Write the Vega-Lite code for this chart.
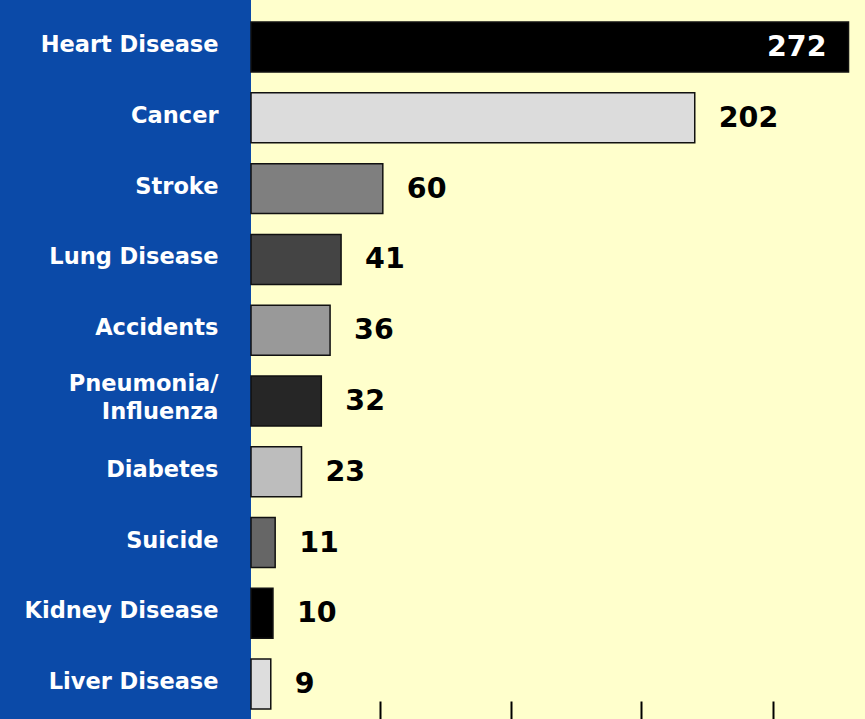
{
  "$schema": "https://vega.github.io/schema/vega-lite/v6.json",
  "width": 614,
  "height": 719,
  "autosize": {"type": "none"},
  "padding": {"left": 251, "top": 0, "right": 0, "bottom": 0},
  "background": "#0b4aa8",
  "config": {"view": {"fill": "#ffffcc", "stroke": null}},
  "data": {
    "values": [
      {"cause": "Heart Disease", "deaths": 272},
      {"cause": "Cancer", "deaths": 202},
      {"cause": "Stroke", "deaths": 60},
      {"cause": "Lung Disease", "deaths": 41},
      {"cause": "Accidents", "deaths": 36},
      {"cause": "Pneumonia/Influenza", "deaths": 32},
      {"cause": "Diabetes", "deaths": 23},
      {"cause": "Suicide", "deaths": 11},
      {"cause": "Kidney Disease", "deaths": 10},
      {"cause": "Liver Disease", "deaths": 9}
    ]
  },
  "encoding": {
    "y": {
      "field": "cause",
      "type": "nominal",
      "sort": null,
      "scale": {"paddingInner": 0.294, "paddingOuter": 0.226, "align": 0.69},
      "axis": {
        "title": null,
        "domain": false,
        "ticks": false,
        "labelPadding": 33,
        "labelColor": "white",
        "labelFont": "DejaVu Sans",
        "labelFontWeight": "bold",
        "labelFontSize": 22.5,
        "labelLimit": 0,
        "labelLineHeight": 28,
        "labelOffset": {"condition": {"test": "datum.value == 'Pneumonia/Influenza'", "value": -17}, "value": -2},
        "labelExpr": "datum.label == 'Pneumonia/Influenza' ? ['Pneumonia/', 'Influenza'] : datum.label"
      }
    },
    "x": {
      "field": "deaths",
      "type": "quantitative",
      "scale": {"domain": [0, 279.5], "nice": false, "zero": true},
      "axis": {
        "title": null,
        "orient": "bottom",
        "offset": -18,
        "tickSize": 18,
        "tickWidth": 2,
        "tickColor": "black",
        "values": [58.6, 118.2, 177.7, 237.7],
        "labels": false,
        "domain": false,
        "grid": false
      }
    }
  },
  "layer": [
    {
      "mark": {"type": "bar", "stroke": "#111111", "strokeWidth": 1.5},
      "encoding": {
        "color": {
          "field": "cause",
          "type": "nominal",
          "legend": null,
          "scale": {
            "domain": ["Heart Disease", "Cancer", "Stroke", "Lung Disease", "Accidents", "Pneumonia/Influenza", "Diabetes", "Suicide", "Kidney Disease", "Liver Disease"],
            "range": ["#000000", "#dcdcdc", "#7f7f7f", "#444444", "#999999", "#262626", "#bdbdbd", "#666666", "#000000", "#dddddd"]
          }
        }
      }
    },
    {
      "transform": [{"filter": "datum.deaths < 250"}],
      "mark": {"type": "text", "align": "left", "baseline": "middle", "dx": 24, "font": "DejaVu Sans", "fontWeight": "bold", "fontSize": 28.5, "color": "black"},
      "encoding": {"text": {"field": "deaths", "type": "quantitative"}}
    },
    {
      "transform": [{"filter": "datum.deaths >= 250"}],
      "mark": {"type": "text", "align": "right", "baseline": "middle", "dx": -22, "font": "DejaVu Sans", "fontWeight": "bold", "fontSize": 28.5, "color": "white"},
      "encoding": {"text": {"field": "deaths", "type": "quantitative"}}
    }
  ]
}
